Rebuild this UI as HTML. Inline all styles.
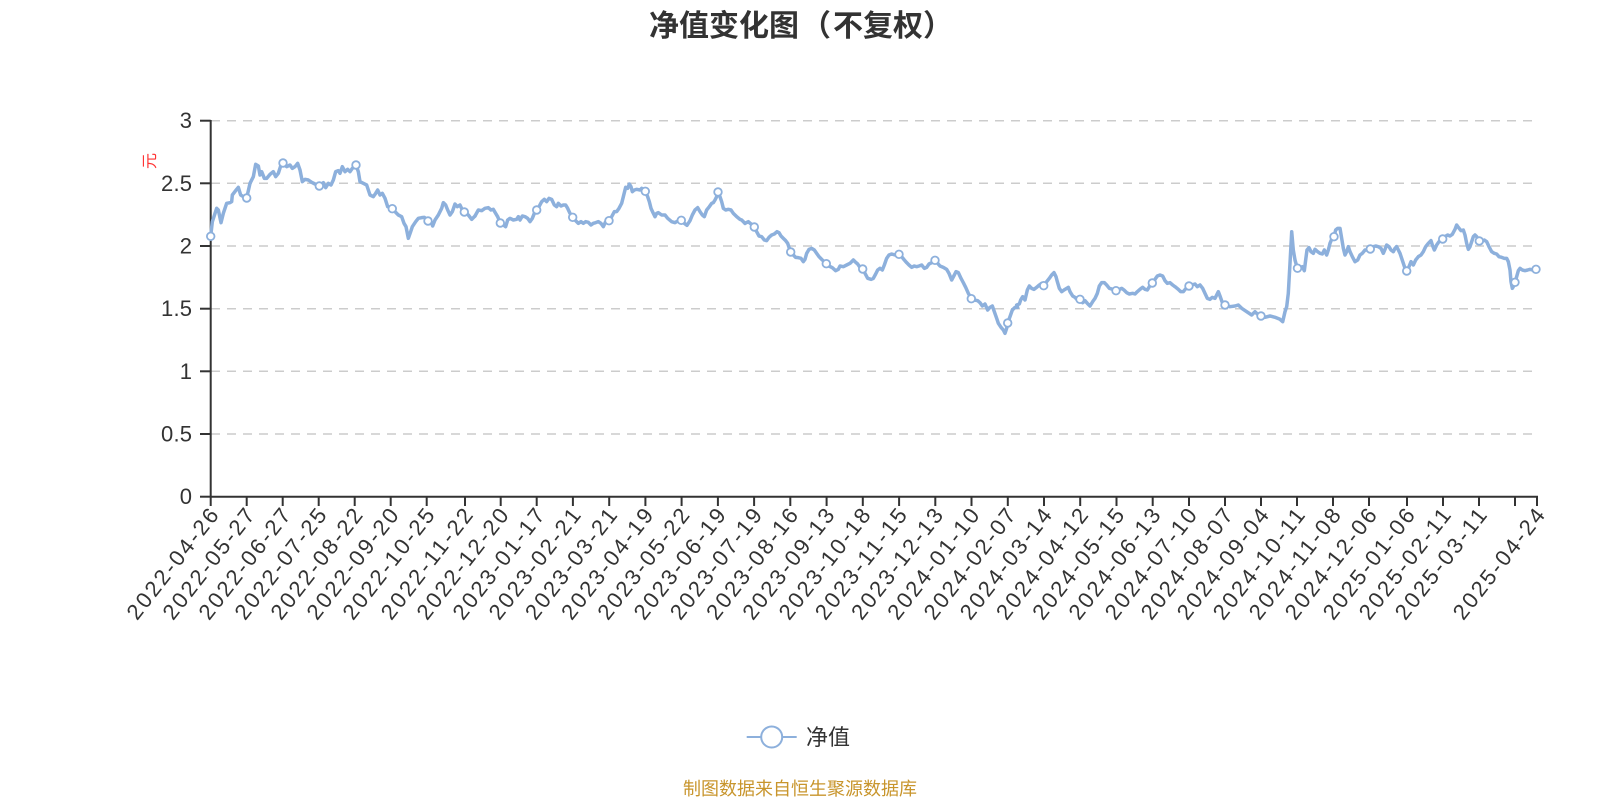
<!DOCTYPE html>
<html><head><meta charset="utf-8"><style>
html,body{margin:0;padding:0;background:#fff;}
svg{display:block;}
text{font-family:"Liberation Sans","Noto Sans CJK SC",sans-serif;}
.cjk{font-family:"Noto Sans CJK SC","Liberation Sans",sans-serif;}
</style></head><body>
<svg width="1600" height="800" viewBox="0 0 1600 800" xmlns="http://www.w3.org/2000/svg">
<rect width="1600" height="800" fill="#fff"/>
<!-- title -->
<text class="cjk" y="23" dominant-baseline="central" font-size="30" font-weight="bold" fill="#333"><tspan x="649">净值变化图</tspan><tspan x="801">（</tspan><tspan x="833">不复权）</tspan></text>
<!-- grid -->
<g stroke="#cccccc" stroke-width="1.5" stroke-dasharray="9 7">
<line x1="211" y1="120.7" x2="1537" y2="120.7"/>
<line x1="211" y1="183.3" x2="1537" y2="183.3"/>
<line x1="211" y1="246" x2="1537" y2="246"/>
<line x1="211" y1="308.7" x2="1537" y2="308.7"/>
<line x1="211" y1="371.3" x2="1537" y2="371.3"/>
<line x1="211" y1="434" x2="1537" y2="434"/>
</g>
<!-- y axis -->
<g stroke="#333" stroke-width="2">
<line x1="210.7" y1="120" x2="210.7" y2="497"/>
<line x1="200" y1="120.7" x2="210.7" y2="120.7"/>
<line x1="200" y1="183.3" x2="210.7" y2="183.3"/>
<line x1="200" y1="246" x2="210.7" y2="246"/>
<line x1="200" y1="308.7" x2="210.7" y2="308.7"/>
<line x1="200" y1="371.3" x2="210.7" y2="371.3"/>
<line x1="200" y1="434" x2="210.7" y2="434"/>
<line x1="200" y1="496.7" x2="210.7" y2="496.7"/>
<line x1="210" y1="496.7" x2="1538" y2="496.7"/>
</g>
<g font-size="22" fill="#333" text-anchor="end" dominant-baseline="central">
<text x="192" y="120.7">3</text>
<text x="192" y="183.3" textLength="31" lengthAdjust="spacing">2.5</text>
<text x="192" y="246">2</text>
<text x="192" y="308.7" textLength="31" lengthAdjust="spacing">1.5</text>
<text x="192" y="371.3">1</text>
<text x="192" y="434" textLength="31" lengthAdjust="spacing">0.5</text>
<text x="192" y="496.7">0</text>
</g>
<text class="cjk" transform="translate(148,161) rotate(-90)" font-size="16" fill="#ff3333" text-anchor="middle" dominant-baseline="central">元</text>
<!-- x ticks -->
<g stroke="#333" stroke-width="2">
<line x1="210.7" y1="496" x2="210.7" y2="506"/><line x1="246.7" y1="496" x2="246.7" y2="506"/><line x1="282.7" y1="496" x2="282.7" y2="506"/><line x1="318.7" y1="496" x2="318.7" y2="506"/><line x1="354.7" y1="496" x2="354.7" y2="506"/><line x1="390.7" y1="496" x2="390.7" y2="506"/><line x1="426.7" y1="496" x2="426.7" y2="506"/><line x1="465" y1="496" x2="465" y2="506"/><line x1="500.7" y1="496" x2="500.7" y2="506"/><line x1="536.7" y1="496" x2="536.7" y2="506"/><line x1="572.9" y1="496" x2="572.9" y2="506"/><line x1="609.2" y1="496" x2="609.2" y2="506"/><line x1="645.4" y1="496" x2="645.4" y2="506"/><line x1="681.6" y1="496" x2="681.6" y2="506"/><line x1="717.9" y1="496" x2="717.9" y2="506"/><line x1="754.1" y1="496" x2="754.1" y2="506"/><line x1="790.3" y1="496" x2="790.3" y2="506"/><line x1="826.6" y1="496" x2="826.6" y2="506"/><line x1="862.8" y1="496" x2="862.8" y2="506"/><line x1="899.1" y1="496" x2="899.1" y2="506"/><line x1="935.3" y1="496" x2="935.3" y2="506"/><line x1="971.5" y1="496" x2="971.5" y2="506"/><line x1="1007.8" y1="496" x2="1007.8" y2="506"/><line x1="1044" y1="496" x2="1044" y2="506"/><line x1="1080.2" y1="496" x2="1080.2" y2="506"/><line x1="1116.5" y1="496" x2="1116.5" y2="506"/><line x1="1152.7" y1="496" x2="1152.7" y2="506"/><line x1="1189" y1="496" x2="1189" y2="506"/><line x1="1225" y1="496" x2="1225" y2="506"/><line x1="1261" y1="496" x2="1261" y2="506"/><line x1="1297" y1="496" x2="1297" y2="506"/><line x1="1333" y1="496" x2="1333" y2="506"/><line x1="1369" y1="496" x2="1369" y2="506"/><line x1="1407" y1="496" x2="1407" y2="506"/><line x1="1443" y1="496" x2="1443" y2="506"/><line x1="1479" y1="496" x2="1479" y2="506"/><line x1="1515" y1="496" x2="1515" y2="506"/><line x1="1537" y1="496" x2="1537" y2="506"/>
</g>
<g font-size="22" fill="#333" text-anchor="end" dominant-baseline="central">
<text transform="translate(213.7,511) rotate(-52)" textLength="134" lengthAdjust="spacing">2022-04-26</text>
<text transform="translate(249.7,511) rotate(-52)" textLength="134" lengthAdjust="spacing">2022-05-27</text>
<text transform="translate(285.7,511) rotate(-52)" textLength="134" lengthAdjust="spacing">2022-06-27</text>
<text transform="translate(321.7,511) rotate(-52)" textLength="134" lengthAdjust="spacing">2022-07-25</text>
<text transform="translate(357.7,511) rotate(-52)" textLength="134" lengthAdjust="spacing">2022-08-22</text>
<text transform="translate(393.7,511) rotate(-52)" textLength="134" lengthAdjust="spacing">2022-09-20</text>
<text transform="translate(429.7,511) rotate(-52)" textLength="134" lengthAdjust="spacing">2022-10-25</text>
<text transform="translate(468,511) rotate(-52)" textLength="134" lengthAdjust="spacing">2022-11-22</text>
<text transform="translate(503.7,511) rotate(-52)" textLength="134" lengthAdjust="spacing">2022-12-20</text>
<text transform="translate(539.7,511) rotate(-52)" textLength="134" lengthAdjust="spacing">2023-01-17</text>
<text transform="translate(575.9,511) rotate(-52)" textLength="134" lengthAdjust="spacing">2023-02-21</text>
<text transform="translate(612.2,511) rotate(-52)" textLength="134" lengthAdjust="spacing">2023-03-21</text>
<text transform="translate(648.4,511) rotate(-52)" textLength="134" lengthAdjust="spacing">2023-04-19</text>
<text transform="translate(684.6,511) rotate(-52)" textLength="134" lengthAdjust="spacing">2023-05-22</text>
<text transform="translate(720.9,511) rotate(-52)" textLength="134" lengthAdjust="spacing">2023-06-19</text>
<text transform="translate(757.1,511) rotate(-52)" textLength="134" lengthAdjust="spacing">2023-07-19</text>
<text transform="translate(793.3,511) rotate(-52)" textLength="134" lengthAdjust="spacing">2023-08-16</text>
<text transform="translate(829.6,511) rotate(-52)" textLength="134" lengthAdjust="spacing">2023-09-13</text>
<text transform="translate(865.8,511) rotate(-52)" textLength="134" lengthAdjust="spacing">2023-10-18</text>
<text transform="translate(902.1,511) rotate(-52)" textLength="134" lengthAdjust="spacing">2023-11-15</text>
<text transform="translate(938.3,511) rotate(-52)" textLength="134" lengthAdjust="spacing">2023-12-13</text>
<text transform="translate(974.5,511) rotate(-52)" textLength="134" lengthAdjust="spacing">2024-01-10</text>
<text transform="translate(1010.8,511) rotate(-52)" textLength="134" lengthAdjust="spacing">2024-02-07</text>
<text transform="translate(1047,511) rotate(-52)" textLength="134" lengthAdjust="spacing">2024-03-14</text>
<text transform="translate(1083.2,511) rotate(-52)" textLength="134" lengthAdjust="spacing">2024-04-12</text>
<text transform="translate(1119.5,511) rotate(-52)" textLength="134" lengthAdjust="spacing">2024-05-15</text>
<text transform="translate(1155.7,511) rotate(-52)" textLength="134" lengthAdjust="spacing">2024-06-13</text>
<text transform="translate(1192,511) rotate(-52)" textLength="134" lengthAdjust="spacing">2024-07-10</text>
<text transform="translate(1228,511) rotate(-52)" textLength="134" lengthAdjust="spacing">2024-08-07</text>
<text transform="translate(1264,511) rotate(-52)" textLength="134" lengthAdjust="spacing">2024-09-04</text>
<text transform="translate(1300,511) rotate(-52)" textLength="134" lengthAdjust="spacing">2024-10-11</text>
<text transform="translate(1336,511) rotate(-52)" textLength="134" lengthAdjust="spacing">2024-11-08</text>
<text transform="translate(1372,511) rotate(-52)" textLength="134" lengthAdjust="spacing">2024-12-06</text>
<text transform="translate(1410,511) rotate(-52)" textLength="134" lengthAdjust="spacing">2025-01-06</text>
<text transform="translate(1446,511) rotate(-52)" textLength="134" lengthAdjust="spacing">2025-02-11</text>
<text transform="translate(1482,511) rotate(-52)" textLength="134" lengthAdjust="spacing">2025-03-11</text>
<text transform="translate(1540,511) rotate(-52)" textLength="134" lengthAdjust="spacing">2025-04-24</text>
</g>
<!-- series line -->
<g fill="none" stroke="#8db0dc" stroke-width="3.5" stroke-linejoin="round" stroke-linecap="round">
<g transform="translate(205,140) scale(0.333333)">
<polyline vector-effect="non-scaling-stroke" points="17,289 22,245 35,205 40,210 48,248 55,220 65,190 75,188 80,185 82,165 95,148 100,142 107,165 115,170 125,174 135,130 145,110 152,73 160,78 165,105 170,95 178,115 185,115 195,103 205,95 212,110 220,100 228,75 234,69 245,80 255,75 262,85 270,80 278,70 285,90 292,125 300,118 310,120 320,127 330,132 343,138 355,128 362,143 370,130 378,135 385,120 392,95 400,92 405,100 412,80 420,95 428,88 435,95 442,85 453,75 460,95 465,125 475,130 485,135 495,165 505,170 512,160 518,150 525,165 532,160 540,175 548,200 562,206 570,215 580,225 590,230 597,250 603,260 610,295 617,275 622,260 632,245 640,235 650,233 658,232 665,240 669,243 675,238 683,258 690,240 700,225 710,205 715,188 722,195 728,210 735,225 742,215 750,192 757,200 765,195 772,210 778,216 790,225 800,238 810,228"/>
</g>
<g transform="translate(475,160) scale(0.333333)">
<polyline vector-effect="non-scaling-stroke" points="0,168 10,150 20,152 30,145 40,143 48,150 55,148 62,160 68,170 76,189 85,195 92,200 98,180 105,175 115,180 125,178 130,170 135,180 142,168 150,170 158,175 165,185 172,175 178,160 185,150 192,140 200,125 208,118 215,125 222,115 230,118 238,135 245,140 250,130 258,138 265,135 272,135 278,145 285,160 293,172 300,180 310,190 318,185 325,190 332,185 340,187 348,195 355,190 362,188 370,185 378,190 385,200 392,185 402,182 410,170 418,155 425,155 432,145 440,130 445,110 452,82 458,85 463,72 468,80 472,95 478,90 485,88 495,90 500,85 505,95 511,94 518,110 523,125 528,145 535,160 540,170 545,160 550,158 560,165 570,165 578,175 590,185 600,188 610,182 619,181 628,190 636,196 645,182 652,165 660,150 668,143 675,155 682,165 688,170 695,150 703,140 710,130 715,128 720,120 725,110 729,96 735,110 740,125 745,145 752,150 760,148 768,150 775,160 785,170 795,178 800,180 810,190"/>
</g>
<g transform="translate(745,210) scale(0.333333)">
<polyline vector-effect="non-scaling-stroke" points="0,40 10,35 18,42 28,51 35,65 42,78 50,80 58,90 65,92 72,82 80,75 88,72 96,65 102,68 108,78 115,85 122,92 128,100 132,112 137,126 145,135 152,142 160,143 168,145 175,155 180,148 185,130 192,118 200,115 208,120 215,130 222,140 232,150 244,161 252,168 262,173 272,182 280,178 285,168 295,170 305,165 315,160 325,150 330,155 338,162 345,172 353,177 360,190 368,205 378,208 385,205 392,192 398,180 405,175 412,180 418,165 425,145 432,135 440,132 450,135 462,133 470,140 478,150 485,158 492,165 500,172 508,168 515,170 522,168 530,165 538,175 545,172 552,162 560,158 570,151 578,160 585,168 595,172 605,178 612,190 620,210 628,195 633,185 640,188 648,205 655,218 662,232 670,250 679,266 688,270 698,272 705,278 712,288 720,282 728,300 735,292 742,288 748,305 755,325 760,340 768,352 775,360 780,370 785,355 788,339 795,320 802,300 810,292 818,292"/>
</g>
<g transform="translate(1010,210) scale(0.333333)">
<polyline vector-effect="non-scaling-stroke" points="20,285 28,282 32,270 38,260 45,270 52,240 58,228 65,235 72,238 80,232 88,225 95,220 101,227 110,215 118,205 125,195 132,188 138,200 142,215 148,235 155,245 162,240 170,235 175,232 180,245 188,258 195,262 202,270 210,268 218,278 225,272 232,280 240,288 248,275 255,265 262,250 268,228 275,218 283,218 290,225 298,235 308,238 318,242 325,240 335,235 342,240 350,248 358,252 368,250 375,252 382,245 390,238 398,232 405,238 412,240 418,230 427,219 435,208 442,198 450,195 458,198 465,212 472,220 480,218 488,225 495,230 505,238 512,245 520,245 528,235 537,228 545,225 555,222 562,230 570,225 578,235 585,250 592,265 600,268 607,262 615,265 620,255 625,245 630,258 636,275 645,285"/>
</g>
<polyline points="1225,305 1230,306.7 1235,306 1238.3,305 1241.7,308.3 1246.7,311.7 1251.7,315 1255,311.7 1257.3,314 1261,316 1265,317.3 1270,316 1275,317.3 1280,319.3 1282.7,321.7 1285,311.7 1286.7,306.7 1288.3,293.3 1290,263.3 1291.7,231.7 1293.3,250 1295,260 1297.3,268.3 1297.7,268"/>
<g transform="translate(1275,200) scale(0.333333)">
<polyline vector-effect="non-scaling-stroke" points="68,204 75,205 82,200 88,212 92,180 96,150 102,143 108,155 115,160 120,148 128,155 135,160 142,162 148,150 155,165 160,150 165,130 170,118 177,110 182,90 188,85 195,85 200,115 205,145 210,165 215,155 220,140 225,155 232,170 240,185 248,180 255,165 262,160 270,150 278,150 286,147 295,140 302,138 310,140 318,145 325,160 330,148 335,135 342,140 348,150 355,155 360,145 365,140 370,150 375,160 380,175 385,190 390,205 395,213 402,200 408,185 415,195 422,180 430,170 438,165 445,155 452,140 460,130 468,122 472,135 478,150 485,135 492,125 503,117 510,110 518,105 525,108 532,103 540,88 545,75 550,82 558,92 565,90 570,105 575,130 580,148 585,140 590,125 595,110 600,105 605,110 613,123 620,125 628,120 635,125 642,140 650,155 658,160 665,162 672,170 680,172 688,175 695,175 700,185 705,210 708,245 712,265 716,258 720,247 725,230 730,212 735,205 742,210 750,212 758,210 765,208 772,210 780,208 786,208"/>
</g>
</g>
<!-- markers -->
<g fill="#fff" stroke="#8db0dc" stroke-width="1.8">
<circle cx="210.7" cy="236.3" r="3.8"/><circle cx="246.7" cy="198" r="3.8"/><circle cx="283" cy="163" r="3.8"/><circle cx="319.3" cy="186" r="3.8"/><circle cx="356" cy="165" r="3.8"/><circle cx="392.3" cy="208.7" r="3.8"/><circle cx="428" cy="221" r="3.8"/><circle cx="464.3" cy="212" r="3.8"/><circle cx="500.3" cy="223" r="3.8"/><circle cx="536.7" cy="210" r="3.8"/><circle cx="572.7" cy="217.3" r="3.8"/><circle cx="609" cy="220.7" r="3.8"/><circle cx="645.3" cy="191.3" r="3.8"/><circle cx="681.3" cy="220.3" r="3.8"/><circle cx="718" cy="192" r="3.8"/><circle cx="754.3" cy="227" r="3.8"/><circle cx="790.7" cy="252" r="3.8"/><circle cx="826.3" cy="263.7" r="3.8"/><circle cx="862.7" cy="269" r="3.8"/><circle cx="899" cy="254.3" r="3.8"/><circle cx="935" cy="260.3" r="3.8"/><circle cx="971.3" cy="298.7" r="3.8"/><circle cx="1007.7" cy="323" r="3.8"/><circle cx="1043.7" cy="285.7" r="3.8"/><circle cx="1080" cy="299.3" r="3.8"/><circle cx="1116" cy="290.7" r="3.8"/><circle cx="1152.3" cy="283" r="3.8"/><circle cx="1189" cy="286" r="3.8"/><circle cx="1225" cy="305" r="3.8"/><circle cx="1261" cy="316" r="3.8"/><circle cx="1297.5" cy="268.2" r="3.8"/><circle cx="1334" cy="236.7" r="3.8"/><circle cx="1370.3" cy="249" r="3.8"/><circle cx="1406.7" cy="271" r="3.8"/><circle cx="1442.7" cy="239" r="3.8"/><circle cx="1479.3" cy="241" r="3.8"/><circle cx="1515" cy="282.3" r="3.8"/><circle cx="1536" cy="269.3" r="3.8"/>
</g>
<!-- legend -->
<line x1="746.7" y1="737" x2="796.7" y2="737" stroke="#8db0dc" stroke-width="2"/>
<circle cx="771.7" cy="737" r="10.5" fill="#fff" stroke="#8db0dc" stroke-width="2"/>
<text class="cjk" x="806" y="736" font-size="22" fill="#333" dominant-baseline="central">净值</text>
<!-- footer -->
<text class="cjk" x="800" y="788" font-size="18" fill="#c8952c" text-anchor="middle" dominant-baseline="central">制图数据来自恒生聚源数据库</text>
</svg>
</body></html>
